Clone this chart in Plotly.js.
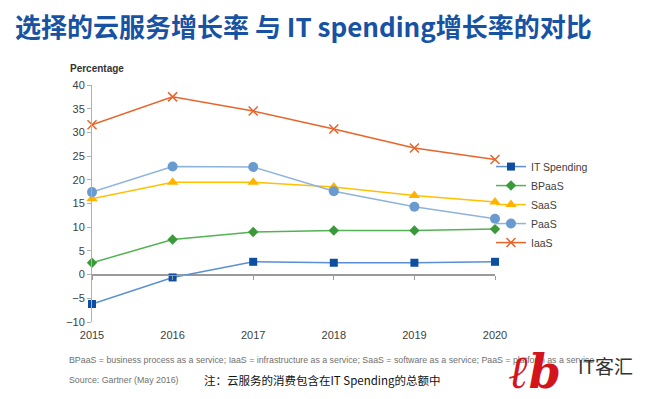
<!DOCTYPE html>
<html><head><meta charset="utf-8">
<script src="https://cdn.plot.ly/plotly-3.0.1.min.js"></script>
<style>html,body{margin:0;padding:0;background:#fff;}#chart{width:650px;height:399px;}</style>
</head><body><div id="chart"></div>
<script>
const years = [2015, 2016, 2017, 2018, 2019, 2020];
const itSpending = [-6.2, -0.6, 2.7, 2.5, 2.5, 2.7];
const bpaas = [2.5, 7.4, 9.0, 9.3, 9.3, 9.6];
const saas = [16.0, 19.5, 19.5, 18.5, 16.7, 15.3];
const paas = [17.4, 22.8, 22.7, 17.6, 14.3, 11.8];
const iaas = [31.6, 37.5, 34.5, 30.7, 26.7, 24.3];
const yTicks = [-10, -5, 0, 5, 10, 15, 20, 25, 30, 35, 40];

const titleText = '选择的云服务增长率 与 IT spending增长率的对比';
const defText = 'BPaaS = business process as a service; IaaS = infrastructure as a service; SaaS = software as a service; PaaS = platform as a service';
const sourceText = 'Source: Gartner (May 2016)';
const noteText = '注：云服务的消费包含在IT Spending的总额中';
const logoMark = 'ℓb';
const logoText = 'IT客汇';

const sans = 'Liberation Sans, Arial, sans-serif';
const cjk = 'Noto Sans CJK SC, sans-serif';
const axisFont = {family: sans, size: 11, color: '#404040'};

function tr(name, y, lineColor, markerColor, symbol, size, markerLine) {
  const m = {color: markerColor, symbol: symbol, size: size};
  if (markerLine) m.line = markerLine;
  return {
    x: years, y: y, name: name, type: 'scatter', mode: 'lines+markers',
    line: {color: lineColor, width: 1.5},
    marker: m, cliponaxis: false, xaxis: 'x', yaxis: 'y'
  };
}

const data = [
  tr('IT Spending', itSpending, '#5a8fd3', '#0d4f9e', 'square', 8),
  tr('BPaaS', bpaas, '#52b352', '#3a9a3a', 'diamond', 8),
  tr('SaaS', saas, '#ffc000', '#ffb300', 'triangle-up', 10),
  tr('PaaS', paas, '#8db3dc', '#6a9bd0', 'circle', 10),
  tr('IaaS', iaas, '#e8642a', '#e8642a', 'x-thin', 9, {color: '#e8642a', width: 1.5}),
  // invisible helper trace so the bottom label axis gets drawn
  {x: years, y: itSpending, xaxis: 'x2', yaxis: 'y', type: 'scatter', mode: 'lines',
   line: {color: 'rgba(0,0,0,0)', width: 0}, showlegend: false, hoverinfo: 'skip'}
];

const layout = {
  width: 650, height: 399,
  margin: {l: 92, r: 155, t: 85, b: 77},
  paper_bgcolor: '#fff', plot_bgcolor: '#fff',
  showlegend: true,
  legend: {x: 0.99, y: 0.717, xanchor: 'left', yanchor: 'top',
    font: {family: sans, size: 10.5, color: '#404040'}, tracegroupgap: 0, itemwidth: 30,
    bgcolor: 'rgba(0,0,0,0)'},
  xaxis: {
    anchor: 'free', position: 0.2,
    range: [2015, 2020], tickvals: years, showticklabels: false,
    showgrid: false, zeroline: false, showline: true, linecolor: '#9a9a9a', linewidth: 1,
    ticks: 'outside', ticklen: 4, tickcolor: '#9a9a9a'
  },
  xaxis2: {
    overlaying: 'x', anchor: 'y', side: 'bottom',
    range: [2015, 2020], tickvals: years, ticktext: years.map(String),
    showgrid: false, zeroline: false, showline: false, ticks: '',
    ticklabelstandoff: 5,
    tickfont: {family: sans, size: 11, color: '#404040'}
  },
  yaxis: {
    range: [-10, 40], tickvals: yTicks, showgrid: false, zeroline: true,
    zerolinecolor: '#9a9a9a', zerolinewidth: 1,
    showline: true, linecolor: '#b0b0b0', linewidth: 1,
    ticks: 'outside', ticklen: 4, tickcolor: '#b0b0b0',
    tickfont: axisFont
  },
  annotations: [
    {text: '<b>' + titleText + '</b>', xref: 'paper', yref: 'paper', x: -0.197, y: 1.0,
     xanchor: 'left', yanchor: 'middle', yshift: 60, showarrow: false,
     font: {family: cjk, size: 26, color: '#1752a3'}},
    {text: '<b>Percentage</b>', xref: 'paper', yref: 'paper', x: -0.06, y: 1.0,
     xanchor: 'left', yanchor: 'middle', yshift: 17, showarrow: false,
     font: {family: sans, size: 10, color: '#333'}},
    {text: defText, xref: 'paper', yref: 'paper', x: -0.063, y: 0, xanchor: 'left', yanchor: 'middle',
     yshift: -38, showarrow: false, font: {family: sans, size: 8.8, color: '#707070'}},
    {text: sourceText, xref: 'paper', yref: 'paper', x: -0.063, y: 0, xanchor: 'left', yanchor: 'middle',
     yshift: -58, showarrow: false, font: {family: sans, size: 8.8, color: '#707070'}},
    {text: noteText, xref: 'paper', yref: 'paper', x: 0.272, y: 0, xanchor: 'left', yanchor: 'middle',
     yshift: -58, showarrow: false, font: {family: cjk, size: 11.5, color: '#111'}},
    {text: '<b><i>' + logoMark + '</i></b>', xref: 'paper', yref: 'paper', x: 1.03, y: 0,
     xanchor: 'left', yanchor: 'middle', yshift: -50, showarrow: false,
     font: {family: 'DejaVu Serif, serif', size: 46, color: '#d4141b'}},
    {text: logoText, xref: 'paper', yref: 'paper', x: 1.2, y: 0, xanchor: 'left', yanchor: 'middle',
     yshift: -43, showarrow: false, font: {family: cjk, size: 19, color: '#333'}}
  ]
};

Plotly.newPlot('chart', data, layout, {displayModeBar: false, staticPlot: true});
</script></body></html>
